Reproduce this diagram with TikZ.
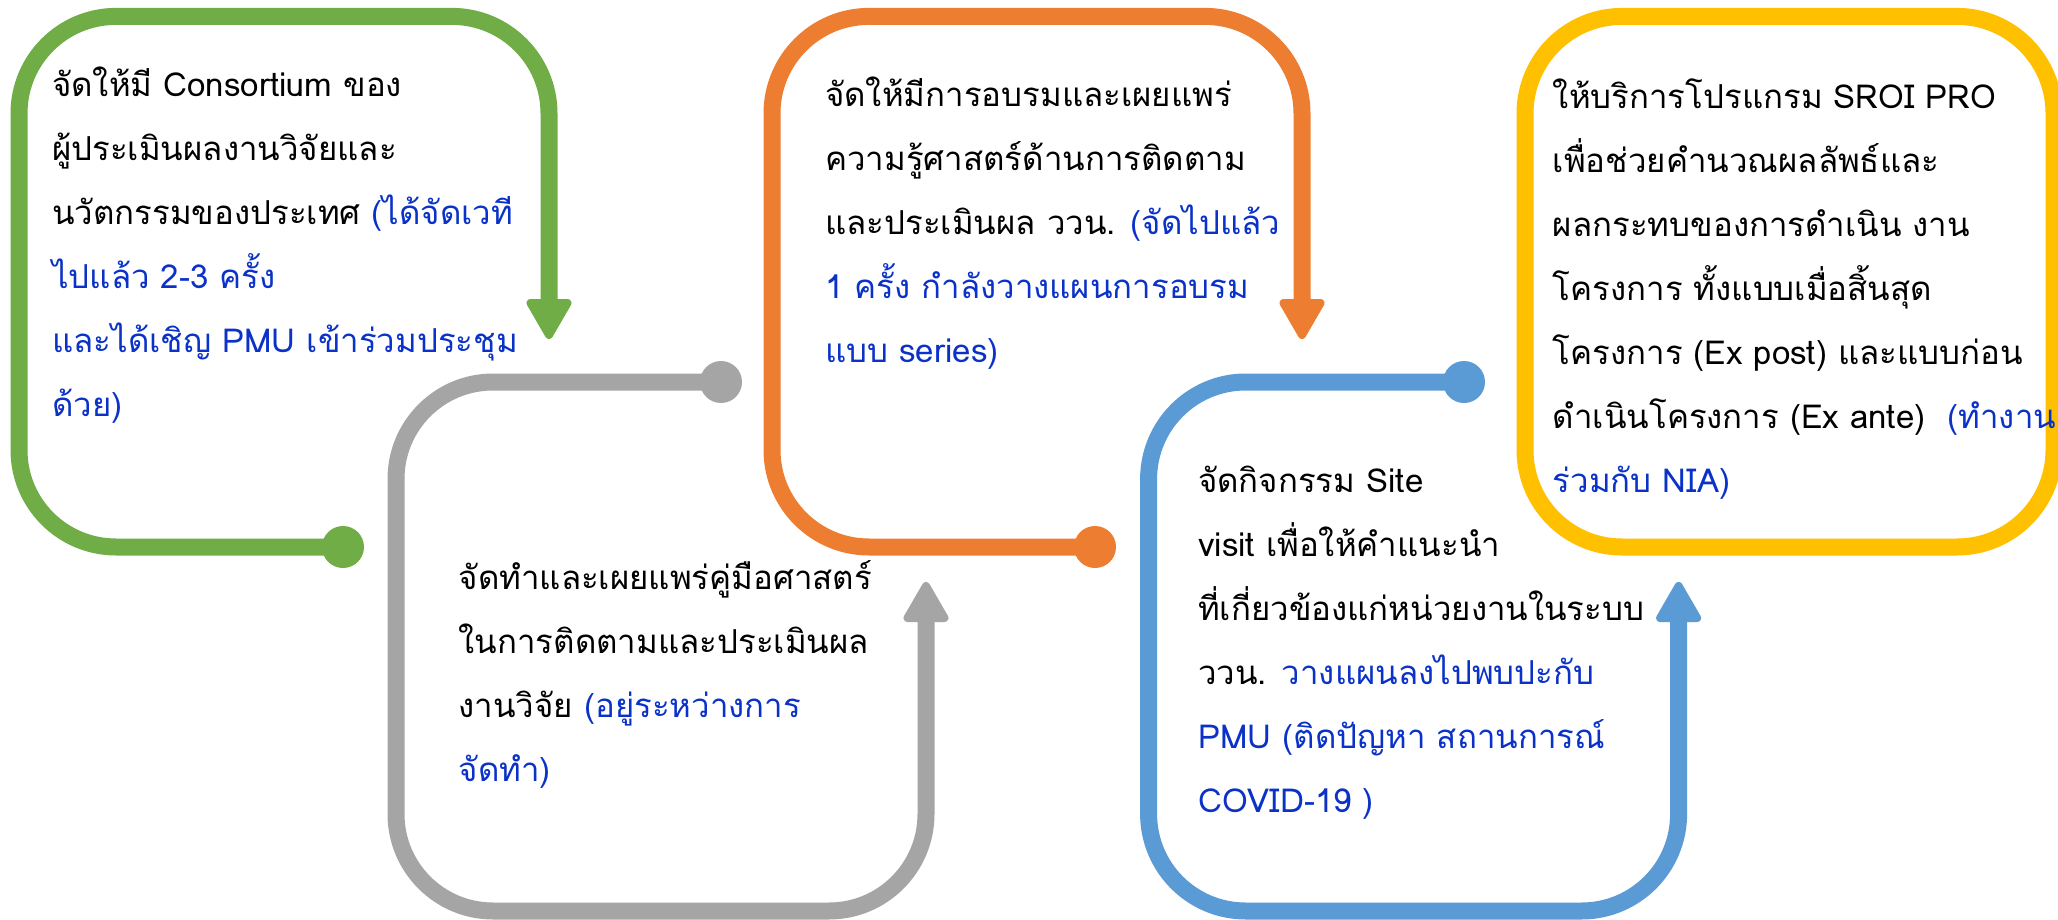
\documentclass[tikz,border=0pt]{standalone}
\usepackage{fontspec}
\setmainfont[Script=Thai]{Loma}
\definecolor{cgreen}{HTML}{70AD47}
\definecolor{cgray}{HTML}{A5A5A5}
\definecolor{corange}{HTML}{ED7D31}
\definecolor{cblue}{HTML}{5B9BD5}
\definecolor{cyellow}{HTML}{FFC000}
\definecolor{tblue}{HTML}{0A32C8}
\tikzset{
  frame/.style={line width=17pt, rounded corners=97pt},
  enddot/.style={circle, fill, inner sep=0pt, minimum size=42pt},
  tiphead/.style={line width=8pt, line join=round},
  downhead/.pic={\filldraw[tiphead] (-18.5,-36) -- (18.5,-36) -- (0,-4) -- cycle;},
  uphead/.pic={\filldraw[tiphead] (-18.5,36) -- (18.5,36) -- (0,4) -- cycle;},
  txt/.style={anchor=base west, inner sep=0pt, font=\fontsize{33}{64}\selectfont}
}
\newcommand{\bl}[1]{\textcolor{tblue}{#1}}
\begin{document}
\begin{tikzpicture}[x=1pt,y=-1pt]
\useasboundingbox (0,0) rectangle (2058,920);
\fill[white] (0,0) rectangle (2058,920);
% coordinates
\coordinate (gdot) at (343,547);   \coordinate (gtip) at (549,339);
\coordinate (ydot) at (721,382);   \coordinate (ytip) at (926,582);
\coordinate (odot) at (1095,547);  \coordinate (otip) at (1302,339);
\coordinate (bdot) at (1464,382);  \coordinate (btip) at (1678.6,582);
% green
\draw[frame, cgreen] (gdot) -- (19,547) -- (19,16.4) -- (549,16.4) -- ([yshift=36pt]gtip);
\node[enddot, cgreen] (gd) at (gdot) {};
\pic[cgreen] at (gtip) {downhead};
% gray
\draw[frame, cgray] (ydot) -- (396,382) -- (396,911) -- (926,911) -- ([yshift=-36pt]ytip);
\node[enddot, cgray] (yd) at (ydot) {};
\pic[cgray] at (ytip) {uphead};
% orange
\draw[frame, corange] (odot) -- (772,547) -- (772,16.4) -- (1302,16.4) -- ([yshift=36pt]otip);
\node[enddot, corange] (od) at (odot) {};
\pic[corange] at (otip) {downhead};
% blue
\draw[frame, cblue] (bdot) -- (1148.6,382) -- (1148.6,911) -- (1678.6,911) -- ([yshift=-36pt]btip);
\node[enddot, cblue] (bd) at (bdot) {};
\pic[cblue] at (btip) {uphead};
% yellow
\draw[frame, cyellow] (1525,16.4) rectangle (2054,547);
% texts
\node[txt] (t1) at (52,96.4) {\begin{tabular}[t]{@{}l@{}}
จัดให้มี Consortium ของ\\
ผู้ประเมินผลงานวิจัยและ\\
นวัตกรรมของประเทศ \bl{(ได้จัดเวที}\\
\bl{ไปแล้ว 2-3 ครั้ง}\\
\bl{และได้เชิญ PMU เข้าร่วมประชุม}\\
\bl{ด้วย)}
\end{tabular}};
\node[txt] (t2) at (458.5,589.7) {\begin{tabular}[t]{@{}l@{}}
จัดทำและเผยแพร่คู่มือศาสตร์\\
ในการติดตามและประเมินผล\\
งานวิจัย \bl{(อยู่ระหว่างการ}\\
\bl{จัดทำ)}
\end{tabular}};
\node[txt] (t3) at (825,107) {\begin{tabular}[t]{@{}l@{}}
จัดให้มีการอบรมและเผยแพร่\\
ความรู้ศาสตร์ด้านการติดตาม\\
และประเมินผล ววน. \bl{(จัดไปแล้ว}\\
\bl{1 ครั้ง กำลังวางแผนการอบรม}\\
\bl{แบบ series)}
\end{tabular}};
\node[txt] (t4) at (1198,492.4) {\begin{tabular}[t]{@{}l@{}}
จัดกิจกรรม Site\\
visit เพื่อให้คำแนะนำ\\
ที่เกี่ยวข้องแก่หน่วยงานในระบบ\\
ววน. \bl{วางแผนลงไปพบปะกับ}\\
\bl{PMU (ติดปัญหา สถานการณ์}\\
\bl{COVID-19 )}
\end{tabular}};
\node[txt] (t5) at (1552.7,109) {\begin{tabular}[t]{@{}l@{}}
ให้บริการโปรแกรม SROI PRO\\
เพื่อช่วยคำนวณผลลัพธ์และ\\
ผลกระทบของการดำเนิน งาน\\
โครงการ ทั้งแบบเมื่อสิ้นสุด\\
โครงการ (Ex post) และแบบก่อน\\
ดำเนินโครงการ (Ex ante)~ \bl{(ทำงาน}\\
\bl{ร่วมกับ NIA)}
\end{tabular}};
\end{tikzpicture}
\end{document}
